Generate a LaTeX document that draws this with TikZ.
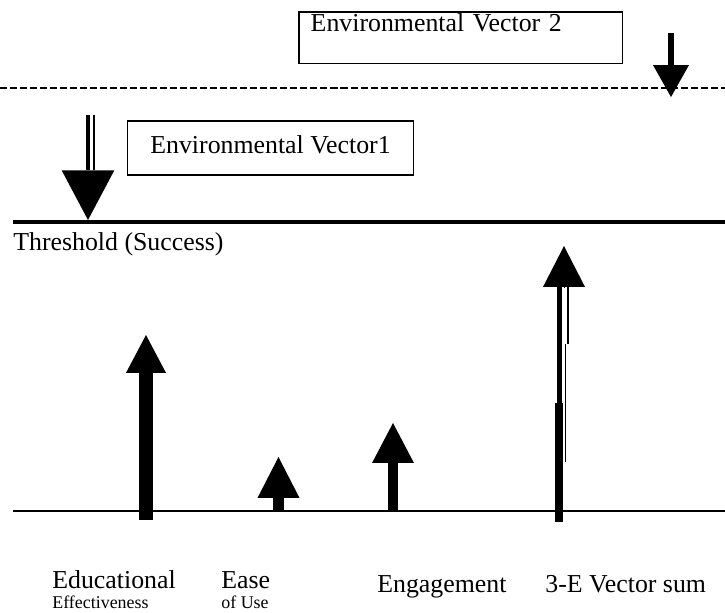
\documentclass[tikz,border=0pt]{standalone}
\usepackage{fontspec}
\setmainfont{Liberation Serif}
\usetikzlibrary{arrows.meta}

\tikzset{
  lbl/.style={font=\fontsize{14.7}{17}\selectfont, inner sep=0pt, anchor=base west},
  sublbl/.style={font=\fontsize{10.2}{12}\selectfont, inner sep=0pt, anchor=base west},
  envbox/.style={draw, line width=0.9pt, font=\fontsize{14.7}{17}\selectfont},
  vec/.style n args={3}{line width=#1, -{Triangle[width=#2, length=#3, line width=0pt 0 0]}}
}

\begin{document}
\begin{tikzpicture}[x=0.02cm, y=-0.02cm]
        \useasboundingbox (0,0) rectangle (725,613);

        % --- Lignes de reference ---
        \coordinate (dashL) at (0,88);
        \coordinate (dashR) at (725,88);
        \draw[line width=1.7pt, dash pattern=on 4pt off 1.7pt] (dashL) -- (dashR);
        \coordinate (thrL) at (13,222);
        \coordinate (thrR) at (725,222);
        \draw[line width=1.8pt] (thrL) -- (thrR);
        \coordinate (baseL) at (13,511);
        \coordinate (baseR) at (725,511);
        \draw[line width=1.1pt] (baseL) -- (baseR);
        \node[lbl] (thr) at (13,250) {Threshold (Success)};

        % ==============================================================
        % Vecteurs environnementaux
        % ==============================================================
        \node[envbox, anchor=north west, minimum width=184.2pt, minimum height=29.5pt,
              text width=170.6pt, align=left, inner xsep=6.8pt, inner ysep=1.1pt,
              text depth=17pt] (env2) at (298,11) {Environmental Vector 2};
        \coordinate (v2top) at (671,33);
        \coordinate (v2tip) at (671,97);
        \draw[vec={3.4pt}{20.4pt}{18.1pt}] (v2top) -- (v2tip);

        \node[envbox, minimum width=162.7pt, minimum height=30.6pt, text height=10.2pt,
              text depth=4.5pt, inner sep=0pt] (env1) at (270.5,148) {Environmental Vector1};
        \coordinate (v1top) at (88,115);
        \coordinate (v1tip) at (88,220);
        \draw[vec={2.8pt}{30pt}{28.3pt}] (v1top) -- (v1tip);
        \coordinate (v1a) at (94,115);
        \coordinate (v1b) at (94,170);
        \draw[line width=1.1pt] (v1a) -- (v1b);

        % ==============================================================
        % Les trois E
        % ==============================================================
        \coordinate (eeBot) at (146,520);
        \coordinate (eeTip) at (146,335);
        \draw[vec={7.4pt}{22.7pt}{21.5pt}] (eeBot) -- (eeTip);
        \node[lbl] (edu) at (52,588) {Educational};
        \node[sublbl] (eff) at (52,608) {Effectiveness};

        \coordinate (easeBot) at (278.5,511);
        \coordinate (easeTip) at (278.5,457);
        \draw[vec={5.7pt}{23.8pt}{23.2pt}] (easeBot) -- (easeTip);
        \node[lbl] (ease) at (221,588) {Ease};
        \node[sublbl] (ofuse) at (221,608) {of Use};

        \coordinate (engBot) at (393,511);
        \coordinate (engTip) at (393,423);
        \draw[vec={6.2pt}{23.8pt}{22.7pt}] (engBot) -- (engTip);
        \node[lbl] (eng) at (377,592) {Engagement};

        % --- Somme vectorielle ---
        \coordinate (sumHead) at (564,288);
        \coordinate (sumTip) at (564,246);
        \draw[vec={0.5pt}{23.8pt}{23.2pt}] (sumHead) -- (sumTip);
        \coordinate (sumL1) at (559.5,286);
        \coordinate (sumL2) at (559.5,403);
        \draw[line width=2.8pt] (sumL1) -- (sumL2);
        \coordinate (sumB1) at (559,403);
        \coordinate (sumB2) at (559,522);
        \draw[line width=4.5pt] (sumB1) -- (sumB2);
        \coordinate (sumR1) at (568,286);
        \coordinate (sumR2) at (568,344);
        \draw[line width=1.1pt] (sumR1) -- (sumR2);
        \coordinate (sumR3) at (565.5,344);
        \coordinate (sumR4) at (565.5,462);
        \draw[line width=1.1pt] (sumR3) -- (sumR4);
        \node[lbl] (sum) at (545,592) {3-E Vector sum};

\end{tikzpicture}
\end{document}
